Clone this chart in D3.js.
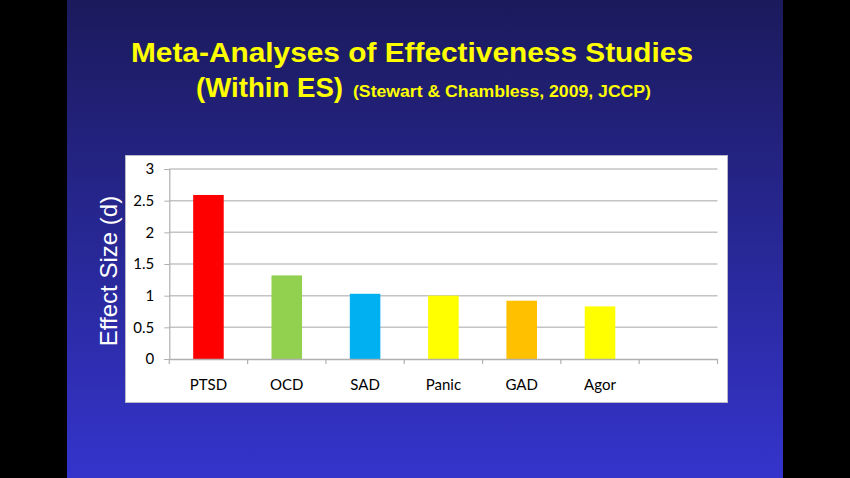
<!DOCTYPE html>
<html>
<head>
<meta charset="utf-8">
<script src="https://cdn.jsdelivr.net/npm/d3@7"></script>
<style>
html,body{margin:0;padding:0;background:#000;}
svg{display:block;}
</style>
</head>
<body>
<svg id="chart" width="850" height="478"></svg>
<script>
const categories = ["PTSD","OCD","SAD","Panic","GAD","Agor",""];
const values = [2.59, 1.32, 1.03, 1.00, 0.92, 0.83, null];
const barColors = ["#ff0000","#92d050","#00b0f0","#ffff00","#ffc000","#ffff00", null];
const yTicks = [0, 0.5, 1, 1.5, 2, 2.5, 3];
const titleLine1 = "Meta-Analyses of Effectiveness Studies";
const titleLine2a = "(Within ES)";
const titleLine2b = "(Stewart & Chambless, 2009, JCCP)";
const yLabel = "Effect Size (d)";

const svg = d3.select("#chart");
const defs = svg.append("defs");
const grad = defs.append("linearGradient").attr("id","bg").attr("x1",0).attr("y1",0).attr("x2",0).attr("y2",1);
grad.append("stop").attr("offset","0%").attr("stop-color","#1b1a5c");
grad.append("stop").attr("offset","100%").attr("stop-color","#3434cc");

svg.append("rect").attr("x",0).attr("y",0).attr("width",850).attr("height",478).attr("fill","#000");
svg.append("rect").attr("x",67).attr("y",0).attr("width",716).attr("height",478).attr("fill","url(#bg)");

// Title
const tfont = "'Liberation Sans', Arial, sans-serif";
svg.append("text").attr("x",412).attr("y",62).attr("text-anchor","middle")
  .attr("font-family",tfont).attr("font-weight","bold").attr("font-size",28)
  .attr("fill","#ffff00").attr("textLength",562).attr("lengthAdjust","spacingAndGlyphs")
  .text(titleLine1);
const t2 = svg.append("text").attr("x",196).attr("y",97)
  .attr("font-family",tfont).attr("font-weight","bold").attr("fill","#ffff00");
t2.append("tspan").attr("font-size",28).attr("textLength",147).attr("lengthAdjust","spacingAndGlyphs").text(titleLine2a);
t2.append("tspan").attr("font-size",16).attr("dx",10).attr("textLength",298).attr("lengthAdjust","spacingAndGlyphs").text(titleLine2b);

// Chart box
svg.append("rect").attr("x",125.5).attr("y",155.5).attr("width",602).attr("height",247)
  .attr("fill","#ffffff").attr("stroke","#b8b8c8").attr("stroke-width",1);

const x0 = 169.3, x1 = 717.5, yTop = 169, yBot = 359;
const x = d3.scaleBand().domain(d3.range(categories.length)).range([x0, x1]).paddingInner(0).paddingOuter(0);
const y = d3.scaleLinear().domain([0,3]).range([yBot, yTop]);

const lab = "Lato, 'Open Sans', sans-serif";

// gridlines
svg.append("g").selectAll("line").data(yTicks.filter(d=>d>0)).join("line")
  .attr("x1",x0).attr("x2",x1).attr("y1",d=>y(d)).attr("y2",d=>y(d))
  .attr("stroke","#c4c4c4").attr("stroke-width",1.5);

// bars
const bw = x.bandwidth()*0.39;
svg.append("g").selectAll("rect").data(values.map((v,i)=>({v,i})).filter(d=>d.v!=null)).join("rect")
  .attr("x",d=>x(d.i)+x.bandwidth()/2-bw/2).attr("width",bw)
  .attr("y",d=>y(d.v)).attr("height",d=>y(0)-y(d.v))
  .attr("fill",d=>barColors[d.i]);

// y axis
const yAxis = d3.axisLeft(y).tickValues(yTicks).tickSize(5).tickFormat(d=>String(d));
const yg = svg.append("g").attr("transform",`translate(${x0},0)`).call(yAxis);
yg.attr("font-family",lab).attr("font-size",15);
yg.select(".domain").attr("stroke","#b0b0b0").attr("stroke-width",1.2);
yg.selectAll(".tick line").attr("stroke","#b0b0b0");
yg.selectAll(".tick text").style("font-family",lab).style("font-size","15px").attr("fill","#000").attr("x",-15);

// x axis
const xAxis = d3.axisBottom(x).tickSize(0).tickFormat(i=>categories[i]);
const xg = svg.append("g").attr("transform",`translate(0,${yBot})`).call(xAxis);
xg.attr("font-family",lab).attr("font-size",15);
xg.select(".domain").attr("stroke","#b0b0b0").attr("stroke-width",1.5);
xg.selectAll(".tick text").style("font-family",lab).style("font-size","15px").attr("fill","#000").attr("dy","0").attr("y",31);
// category separators
svg.append("g").selectAll("line").data(d3.range(categories.length+1)).join("line")
  .attr("x1",i=>x0+i*x.bandwidth()).attr("x2",i=>x0+i*x.bandwidth())
  .attr("y1",yBot).attr("y2",yBot+5).attr("stroke","#b0b0b0").attr("stroke-width",1.2);

// y label
svg.append("text").attr("transform","translate(117,271) rotate(-90)")
  .attr("text-anchor","middle").attr("font-family",tfont).attr("font-size",24)
  .attr("fill","#ffffff").text(yLabel);
</script>
</body>
</html>
